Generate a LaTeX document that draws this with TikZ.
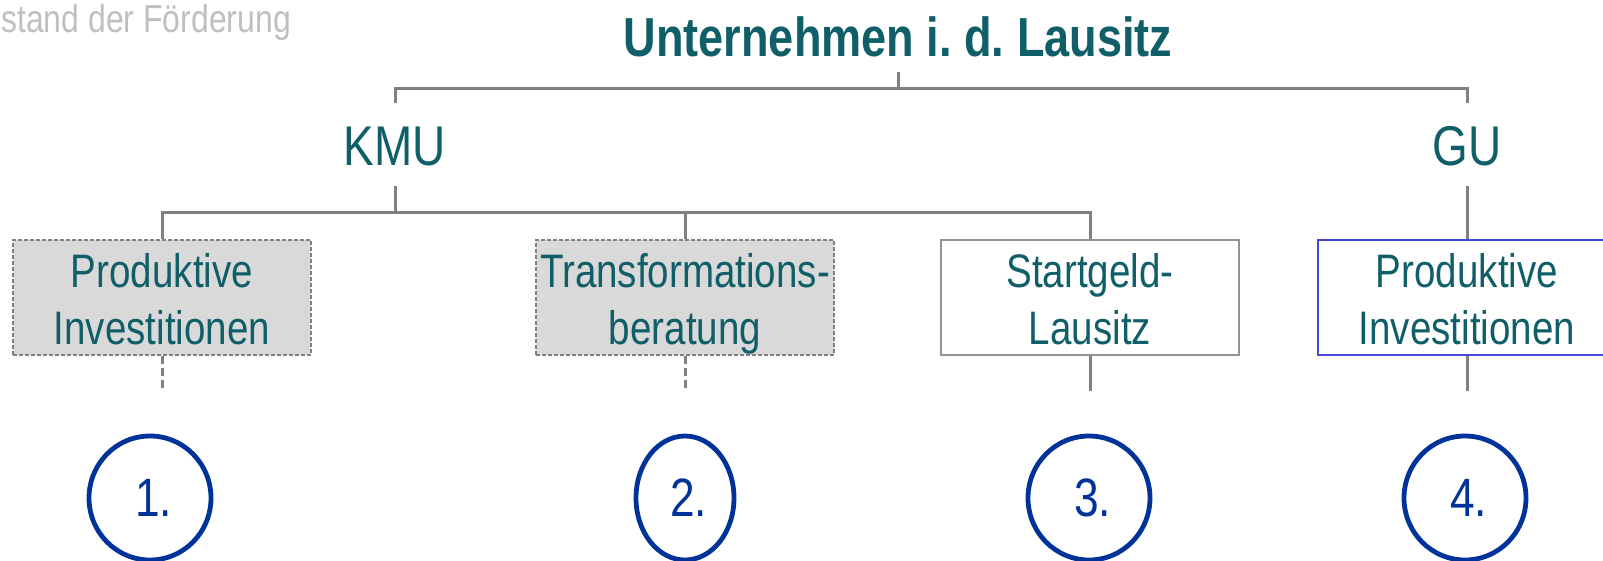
\documentclass[tikz,border=0pt]{standalone}
\usepackage{fontspec}
\setmainfont{Liberation Sans}
\newfontfamily\narrowfont[FakeStretch=0.82]{Liberation Sans}
\usetikzlibrary{shapes.geometric}
\definecolor{tealtxt}{RGB}{16,94,104}
\definecolor{hdrgray}{RGB}{191,191,191}
\definecolor{linegray}{RGB}{128,128,128}
\definecolor{boxgray}{RGB}{217,217,217}
\definecolor{circblue}{RGB}{0,51,153}
\definecolor{boxblue}{RGB}{70,70,215}
\newcommand{\toprl}{\rule{0pt}{46pt}}
\newcommand{\botrl}{\rule[-10pt]{0pt}{10pt}}
\begin{document}
\begin{tikzpicture}[x=1pt,y=-1pt,
  conn/.style={draw=linegray, line width=3pt},
  dconn/.style={conn, dash pattern=on 8pt off 4pt},
  lvl/.style={text=tealtxt, font=\narrowfont\fontsize{56}{62}\selectfont, inner sep=0pt},
  pbox/.style={rectangle, minimum width=298pt, minimum height=115pt, inner sep=0pt,
    align=center, text=tealtxt, font=\narrowfont\fontsize{47}{57}\selectfont},
  greybox/.style={pbox, fill=boxgray, draw=linegray, line width=1.5pt, dash pattern=on 4pt off 2pt},
  whitebox/.style={pbox, draw=linegray!85, line width=2pt},
  bluebox/.style={pbox, draw=boxblue, line width=1.5pt},
  circ/.style={ellipse, draw=circblue, line width=4.8pt, minimum height=124pt, inner sep=0pt,
    text=circblue, font=\narrowfont\fontsize{54}{60}\selectfont}
]
\useasboundingbox (0,0) rectangle (1603,560);

\node[anchor=base west, text=hdrgray, font=\narrowfont\fontsize{39}{44}\selectfont, inner sep=0pt] (hdr) at (1,32) {stand der Förderung};
\node[anchor=base, text=tealtxt, font=\narrowfont\bfseries\fontsize{55}{62}\selectfont, inner sep=0pt] (title) at (898,56) {Unternehmen i.\ d.\ Lausitz};

\node[lvl, anchor=base] (kmu) at (395,165) {KMU};
\node[lvl, anchor=base] (gu) at (1467,165) {GU};

\node[greybox] (b1) at (162,297.5) {\toprl Produktive\\Investitionen\botrl};
\node[greybox] (b2) at (685,297.5) {\toprl Transformations-\\beratung\botrl};
\node[whitebox] (b3) at (1090,297.5) {\toprl Startgeld-\\Lausitz\botrl};
\node[bluebox] (b4) at (1467,297.5) {\toprl Produktive\\Investitionen\botrl};

\node[circ, minimum width=122pt] (c1) at (150,498) {\kern7pt 1.};
\node[circ, minimum width=98pt] (c2) at (685,498) {\kern7pt 2.};
\node[circ, minimum width=122pt] (c3) at (1089,498) {\kern7pt 3.};
\node[circ, minimum width=122pt] (c4) at (1465,498) {\kern7pt 4.};

\coordinate (tstub) at (898,72);
\coordinate (topbar) at (898,88);
\coordinate (kmutop) at (395,103);
\coordinate (gutop) at (1467,103);
\coordinate (kmubot) at (395,186);
\coordinate (kmubar) at (395,212);
\coordinate (gubot) at (1467,186);

\draw[conn] (tstub) -- (topbar);
\draw[conn] (kmutop) |- (topbar) -| (gutop);
\draw[conn] (kmubot) -- (kmubar);
\draw[conn] (b1.north) |- (kmubar) -| (b3.north);
\draw[conn] (b2.north) -- (b2.north |- kmubar);
\draw[conn] (gubot) -- (b4.north);

\draw[dconn] (b1.south) -- ++(0,35);
\draw[dconn] (b2.south) -- ++(0,35);
\draw[conn] (b3.south) -- ++(0,35);
\draw[conn] (b4.south) -- ++(0,35);
\end{tikzpicture}
\end{document}
